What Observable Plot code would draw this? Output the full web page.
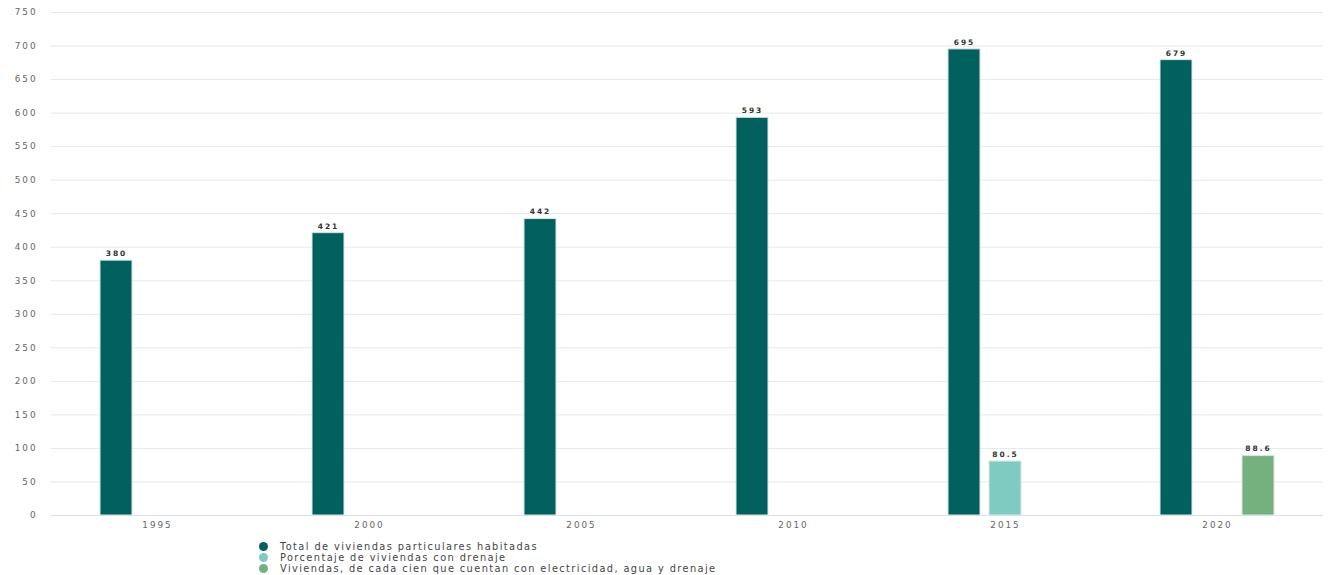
<!DOCTYPE html>
<html>
<head>
<meta charset="utf-8">
<script src="https://cdn.jsdelivr.net/npm/d3@7"></script>
<script src="https://cdn.jsdelivr.net/npm/@observablehq/plot@0.6"></script>
<style>
  body { margin: 0; background: #fff; font-family: "DejaVu Sans", sans-serif; }
  #legend { margin-left: 259px; margin-top: 4px; font-size: 9.8px; letter-spacing: 1.4px; color: #444; line-height: 11px; }
  #legend .item { display: flex; align-items: center; }
  #legend .dot { width: 9px; height: 9px; border-radius: 50%; margin-right: 12px; display: inline-block; }
</style>
</head>
<body>
<div id="chart"></div>
<div id="legend"></div>
<script>
const years = ["1995", "2000", "2005", "2010", "2015", "2020"];
const seriesNames = [
  "Total de viviendas particulares habitadas",
  "Porcentaje de viviendas con drenaje",
  "Viviendas, de cada cien que cuentan con electricidad, agua y drenaje"
];
const colors = ["#02605f", "#80cbc1", "#74b17f"];
const totalViviendas = [380, 421, 442, 593, 695, 679];
const pctDrenaje = [null, null, null, null, 80.5, null];
const electricidadAguaDrenaje = [null, null, null, null, null, 88.6];
const yTicks = d3.range(0, 751, 50);

const seriesValues = [totalViviendas, pctDrenaje, electricidadAguaDrenaje];
const data = [];
years.forEach((yr, i) => {
  seriesValues.forEach((vals, s) => {
    if (vals[i] != null) data.push({year: yr, series: seriesNames[s], value: vals[i]});
  });
});

const chart = Plot.plot({
  width: 1333,
  height: 537,
  marginTop: 12,
  marginBottom: 22,
  marginLeft: 50,
  marginRight: 10,
  style: {fontFamily: "DejaVu Sans, sans-serif", fontSize: "8.8px", color: "#666", letterSpacing: "2px"},
  fx: {domain: years, padding: 0, label: null, tickSize: 0, tickPadding: 6},
  x: {domain: seriesNames, axis: null, paddingInner: 0.21, paddingOuter: 1.13},
  y: {domain: [0, 750], ticks: yTicks, label: null, tickSize: 0, tickPadding: 14, grid: false},
  color: {domain: seriesNames, range: colors},
  marks: [
    Plot.gridY(yTicks, {stroke: "#e6e8ee", strokeOpacity: 1}),
    Plot.ruleY([0], {stroke: "#d8deea", strokeWidth: 1.2}),
    Plot.barY(data, {fx: "year", x: "series", y: "value", fill: "series", stroke: "#d5e8e6", strokeWidth: 1}),
    Plot.text(data, {fx: "year", x: "series", y: "value", text: d => String(d.value), dy: -7, fontSize: 7.5, fontWeight: "bold", fill: "#333", style: {letterSpacing: "1.3px"}})
  ]
});
document.getElementById("chart").appendChild(chart);

const legend = document.getElementById("legend");
seriesNames.forEach((name, i) => {
  const item = document.createElement("div");
  item.className = "item";
  const dot = document.createElement("span");
  dot.className = "dot";
  dot.style.background = colors[i];
  const label = document.createElement("span");
  label.textContent = name;
  item.appendChild(dot);
  item.appendChild(label);
  legend.appendChild(item);
});
</script>
</body>
</html>
